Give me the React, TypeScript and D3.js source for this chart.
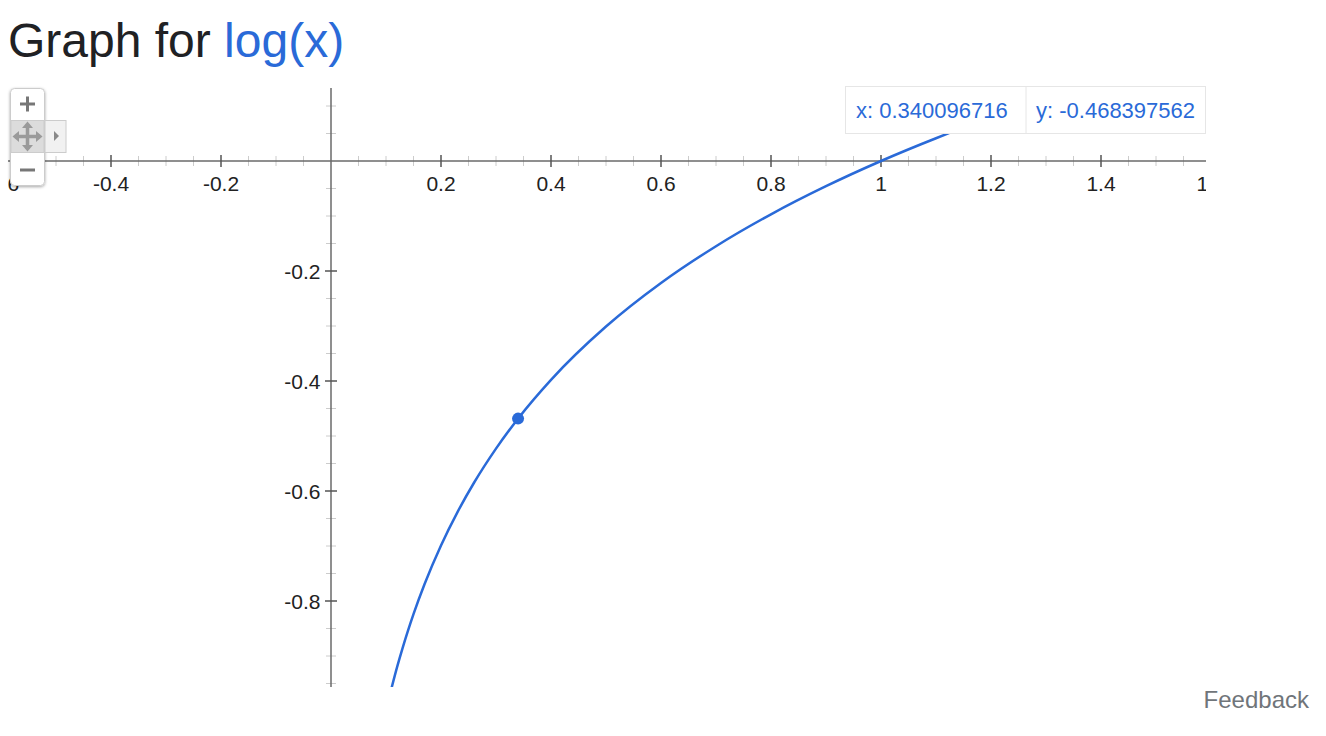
import React from "react";
import * as d3 from "d3";

const curveX = [0.11, 0.12, 0.13, 0.14, 0.15, 0.17, 0.2, 0.23, 0.26, 0.3, 0.34, 0.4, 0.5, 0.6, 0.7, 0.8, 0.9, 1.0, 1.1, 1.2, 1.3, 1.4];
const curveY = [-0.9586, -0.9208, -0.8861, -0.8539, -0.8239, -0.7696, -0.699, -0.6383, -0.585, -0.5229, -0.4685, -0.3979, -0.301, -0.2218, -0.1549, -0.0969, -0.0458, 0, 0.0414, 0.0792, 0.1139, 0.1461];
const pointX = 0.340096716;
const pointY = -0.468397562;
const xMajor = [-0.6, -0.4, -0.2, 0.2, 0.4, 0.6, 0.8, 1, 1.2, 1.4, 1.6];
const xMajorLabels = ["-0.6", "-0.4", "-0.2", "0.2", "0.4", "0.6", "0.8", "1", "1.2", "1.4", "1.6"];
const yMajor = [-0.2, -0.4, -0.6, -0.8];
const yMajorLabels = ["-0.2", "-0.4", "-0.6", "-0.8"];
const minorStep = 0.05;

const W = 1326, H = 736;
const L = 8, R = 1206, T = 88, B = 687;
const BLUE = "#2a6ad8";
const FONT = "'Liberation Sans', Arial, sans-serif";

export default function App() {
  const x = d3.scaleLinear().domain([0, 1]).range([331, 881]);
  const y = d3.scaleLinear().domain([0, -1]).range([161, 711]);
  const [x0, x1] = [x.invert(L), x.invert(R)];
  const [y0, y1] = [y.invert(B), y.invert(T)];
  const xMinor = d3.range(Math.ceil(x0 / minorStep), Math.floor(x1 / minorStep) + 1).map((i) => i * minorStep);
  const yMinor = d3.range(Math.ceil(y0 / minorStep), Math.floor(y1 / minorStep) + 1).map((i) => i * minorStep);
  const pts = curveX.map((v, i) => [v, curveY[i]] as [number, number]);
  const line = d3.line<[number, number]>().x((d) => x(d[0])).y((d) => y(d[1])).curve(d3.curveMonotoneX);
  const isMajor = (v: number) => Math.abs(v / 0.2 - Math.round(v / 0.2)) < 1e-6;
  return (
    <svg width={W} height={H} style={{ position: "absolute", left: 0, top: 0, fontFamily: FONT }}>
      <defs>
        <clipPath id="plot"><rect x={L} y={T} width={R - L} height={B - T} /></clipPath>
        <filter id="sh" x="-30%" y="-30%" width="160%" height="160%">
          <feDropShadow dx="0" dy="1" stdDeviation="1.5" floodColor="#000" floodOpacity="0.35" />
        </filter>
      </defs>
      <text x={8} y={57} fontSize={48} fill="#202124">Graph for <tspan fill={BLUE}>log(x)</tspan></text>
      <g clipPath="url(#plot)">
        {xMinor.filter((v) => !isMajor(v) && Math.abs(v) > 1e-6).map((v, i) => (
          <line key={"xm" + i} x1={x(v)} x2={x(v)} y1={156} y2={166} stroke="#ccc" strokeWidth={1} />
        ))}
        {yMinor.filter((v) => !isMajor(v) && Math.abs(v) > 1e-6).map((v, i) => (
          <line key={"ym" + i} x1={326} x2={336} y1={y(v)} y2={y(v)} stroke="#ccc" strokeWidth={1} />
        ))}
        <line x1={L} x2={R} y1={161} y2={161} stroke="#6a6a6a" strokeWidth={1.5} />
        <line x1={331} x2={331} y1={T} y2={B} stroke="#6a6a6a" strokeWidth={1.5} />
        {xMajor.map((v, i) => (
          <g key={"xM" + i}>
            <line x1={x(v)} x2={x(v)} y1={155} y2={167} stroke="#555" strokeWidth={1.5} />
            <text x={x(v)} y={191} fontSize={21} textAnchor="middle" fill="#222">{xMajorLabels[i]}</text>
          </g>
        ))}
        {yMajor.map((v, i) => (
          <g key={"yM" + i}>
            <line x1={325} x2={337} y1={y(v)} y2={y(v)} stroke="#555" strokeWidth={1.5} />
            <text x={320.5} y={y(v) + 7.5} fontSize={21} textAnchor="end" fill="#222">{yMajorLabels[i]}</text>
          </g>
        ))}
        <path d={line(pts) || ""} fill="none" stroke={BLUE} strokeWidth={2.5} />
        <circle cx={x(pointX)} cy={y(pointY)} r={6} fill={BLUE} />
      </g>
      <g>
        <rect x={845.5} y={86.5} width={360} height={47} fill="#fff" stroke="#e6e6e6" />
        <line x1={1026} x2={1026} y1={86.5} y2={133.5} stroke="#e6e6e6" />
        <text x={856} y={118} fontSize={22} fill={BLUE}>x: {pointX.toFixed(9)}</text>
        <text x={1036} y={118} fontSize={22} fill={BLUE}>y: {pointY.toFixed(9)}</text>
      </g>
      <g filter="url(#sh)">
        <rect x={10.5} y={88.5} width={34} height={97} rx={4} fill="#fff" stroke="#ccc" />
      </g>
      <rect x={45} y={120.5} width={21} height={32} fill="#f1f1f1" stroke="#ccc" />
      <path d="M54,131 L59,136 L54,141 Z" fill="#888" />
      <rect x={11} y={120.5} width={33} height={32} fill="#dcdcdc" stroke="#ccc" />
      <g stroke="#777" strokeWidth={3}>
        <line x1={20} x2={35} y1={104} y2={104} />
        <line x1={27.5} x2={27.5} y1={96.5} y2={111.5} />
        <line x1={20} x2={35} y1={170} y2={170} />
      </g>
      <g stroke="#9a9a9a" strokeWidth={3.5}>
        <line x1={15} x2={40} y1={136.5} y2={136.5} />
        <line x1={27.5} x2={27.5} y1={124} y2={149} />
      </g>
      <g fill="#9a9a9a">
        <path d="M27.5,121.5 L22,128 L33,128 Z" />
        <path d="M27.5,151.5 L22,145 L33,145 Z" />
        <path d="M12.5,136.5 L19,131 L19,142 Z" />
        <path d="M42.5,136.5 L36,131 L36,142 Z" />
      </g>
      <text x={1309} y={708} fontSize={24} textAnchor="end" fill="#70757a">Feedback</text>
    </svg>
  );
}
